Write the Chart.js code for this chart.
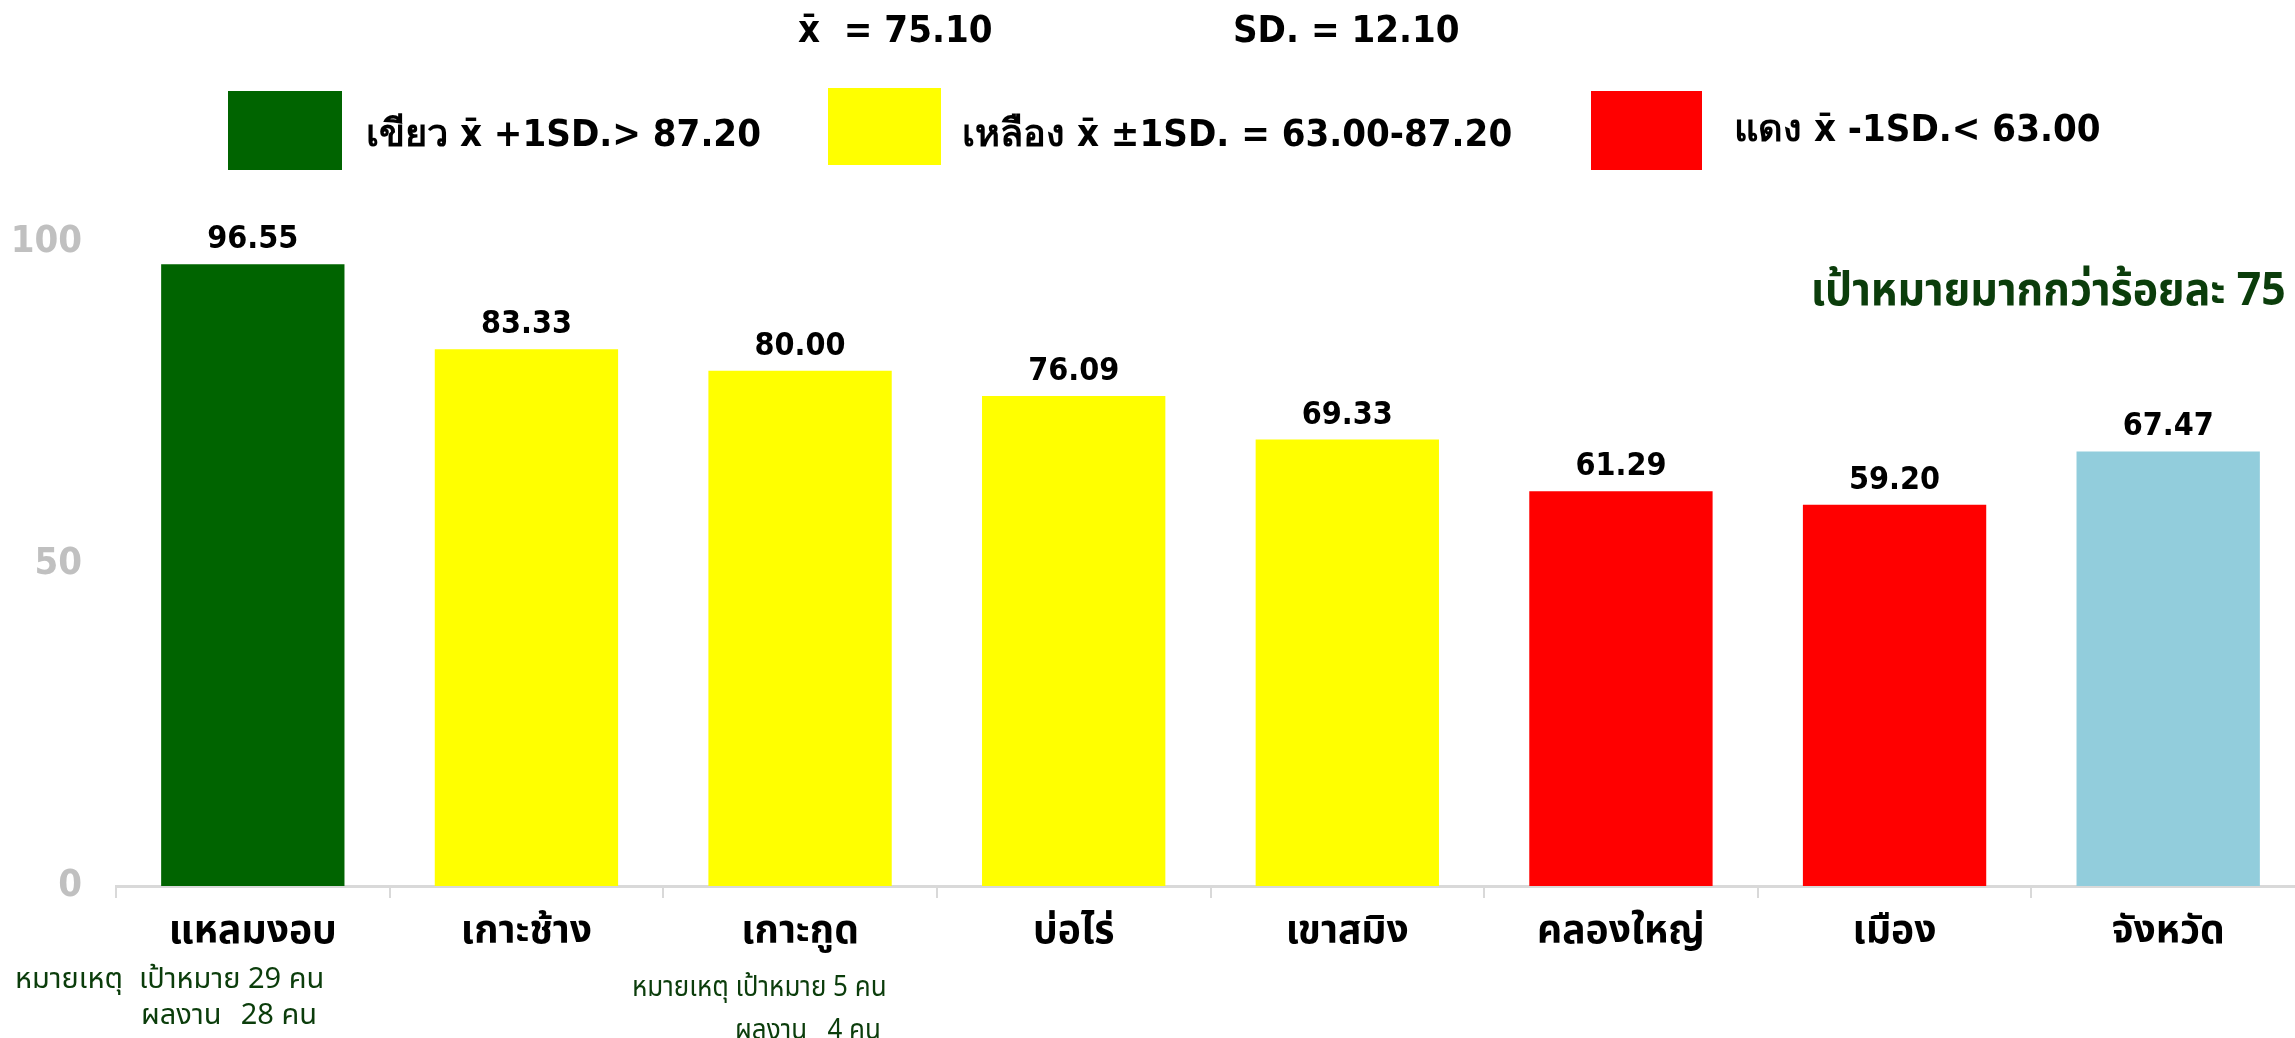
<!DOCTYPE html>
<html lang="th">
<head>
<meta charset="utf-8">
<script src="https://cdn.jsdelivr.net/npm/chart.js@4"></script>
<style>
  body { margin: 0; overflow: hidden; background: #fff; }
  #wrap { position: relative; width: 2310px; height: 1038px; }
  .txt { position: absolute; white-space: pre; font-family: "DejaVu Sans Condensed", "DejaVu Sans", sans-serif; font-weight: bold; color: #000; line-height: normal; }
  .hdr { font-size: 38px; }
  .leg { font-size: 38px; }
  .box { position: absolute; }
  .goal { font-size: 46px; color: #0b3d0b; font-family: "Noto Sans Thai", "DejaVu Sans", sans-serif; transform: scaleX(0.93); transform-origin: right center; }
  .note { font-weight: normal; color: #0b3d0b; font-family: "Noto Sans Thai", "Noto Sans", sans-serif; }
</style>
</head>
<body>
<div id="wrap">
  <canvas id="chart" width="2310" height="1038"></canvas>
</div>
<script>
/* ── Données ── */
const CATEGORIES = ['แหลมงอบ', 'เกาะช้าง', 'เกาะกูด', 'บ่อไร่', 'เขาสมิง', 'คลองใหญ่', 'เมือง', 'จังหวัด'];
const VALUES = [96.55, 83.33, 80.00, 76.09, 69.33, 61.29, 59.20, 67.47];
const Y_TICKS = [0, 50, 100];
const MEAN = '75.10';
const SD = '12.10';
const LEGEND_TEXT = ['เขียว x̄ +1SD.> 87.20', 'เหลือง x̄ ±1SD. = 63.00-87.20', 'แดง x̄ -1SD.< 63.00'];
const GOAL_TEXT = 'เป้าหมายมากกว่าร้อยละ 75';
const NOTE_1 = ['หมายเหตุ', 'เป้าหมาย 29 คน', 'ผลงาน', '28 คน'];
const NOTE_2 = ['หมายเหตุ เป้าหมาย 5 คน', 'ผลงาน   4 คน'];

const COLORS = {
  green: '#006400',
  yellow: '#FFFF00',
  red: '#FF0000',
  blue: '#92CDDC',
};
const BAR_COLORS = [COLORS.green, COLORS.yellow, COLORS.yellow, COLORS.yellow, COLORS.yellow, COLORS.red, COLORS.red, COLORS.blue];

const THAI = '"Noto Sans Thai", "Noto Sans Thai UI", Tahoma, "DejaVu Sans", sans-serif';
const NUM = '"DejaVu Sans Condensed", "DejaVu Sans", sans-serif';

/* ── Textes HTML (en-tête, légende, notes) ── */
const wrap = document.getElementById('wrap');
function addText(cls, text, style) {
  const el = document.createElement('div');
  el.className = 'txt ' + cls;
  el.textContent = text;
  Object.assign(el.style, style);
  wrap.appendChild(el);
  return el;
}
function addBox(color, left, top, w, h) {
  const el = document.createElement('div');
  el.className = 'box';
  Object.assign(el.style, { left: left + 'px', top: top + 'px', width: w + 'px', height: h + 'px', background: color });
  wrap.appendChild(el);
}

addText('hdr', 'x̄  = ' + MEAN, { left: '798px', top: '7px' });
addText('hdr', 'SD. = ' + SD, { left: '1233px', top: '7px' });

addBox(COLORS.green, 228, 91, 114, 79);
addBox(COLORS.yellow, 828, 88, 113, 77);
addBox(COLORS.red, 1591, 91, 111, 79);
addText('leg', LEGEND_TEXT[0], { left: '366px', top: '102px' });
addText('leg', LEGEND_TEXT[1], { left: '962px', top: '102px' });
addText('leg', LEGEND_TEXT[2], { left: '1734px', top: '97px' });

addText('goal', GOAL_TEXT, { right: '24px', top: '256px' });

addText('note', NOTE_1[0], { left: '15px', top: '957px', fontSize: '29px' });
addText('note', NOTE_1[1], { left: '139px', top: '957px', fontSize: '29px' });
addText('note', NOTE_1[2], { left: '141px', top: '993px', fontSize: '29px' });
addText('note', NOTE_1[3], { right: '1993px', top: '993px', fontSize: '29px' });
addText('note', NOTE_2[0], { left: '632px', top: '967px', fontSize: '26px', transform: 'scaleY(1.1)' });
addText('note', NOTE_2[1], { left: '735px', top: '1010px', fontSize: '26px', transform: 'scaleY(1.1)' });

/* ── Étiquettes de valeurs ── */
const valueLabels = {
  id: 'valueLabels',
  afterDatasetsDraw(chart) {
    const ctx = chart.ctx;
    const meta = chart.getDatasetMeta(0);
    ctx.save();
    ctx.font = 'bold 32px ' + NUM;
    ctx.fillStyle = '#000';
    ctx.textAlign = 'center';
    ctx.textBaseline = 'alphabetic';
    meta.data.forEach((bar, i) => {
      ctx.fillText(VALUES[i].toFixed(2), bar.x, bar.y - 16);
    });
    ctx.restore();
  }
};

/* ── Graphique ── */
new Chart(document.getElementById('chart'), {
  type: 'bar',
  data: {
    labels: CATEGORIES,
    datasets: [{
      data: VALUES,
      backgroundColor: BAR_COLORS,
      barPercentage: 0.67,
      categoryPercentage: 1,
    }]
  },
  options: {
    responsive: false,
    animation: false,
    layout: { padding: { top: 242, right: 5, left: 0, bottom: 0 } },
    plugins: { legend: { display: false }, tooltip: { enabled: false } },
    scales: {
      x: {
        grid: { display: true, drawOnChartArea: false, offset: true, color: '#D9D9D9', lineWidth: 2, tickLength: 12 },
        border: { display: true, color: '#D9D9D9', width: 3 },
        ticks: { color: '#000', font: { family: THAI, size: 39, weight: 'bold' }, padding: 14 },
        afterFit: (scale) => { scale.height = 152; },
      },
      y: {
        min: 0,
        max: 100,
        grid: { display: false },
        border: { display: false },
        afterBuildTicks: (scale) => { scale.ticks = Y_TICKS.map(v => ({ value: v })); },
        ticks: { color: '#C0C0C0', font: { family: NUM, size: 38, weight: 'bold' }, padding: 26 },
        afterFit: (scale) => { scale.width = 116; },
      }
    }
  },
  plugins: [valueLabels]
});
</script>
</body>
</html>
